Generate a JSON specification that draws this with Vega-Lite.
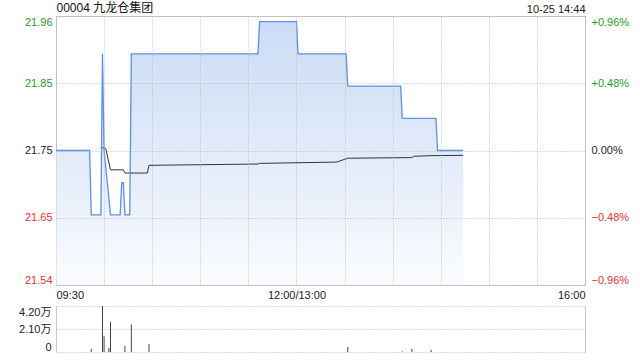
{
  "$schema": "https://vega.github.io/schema/vega-lite/v6.json",
  "background": "white",
  "padding": {"left": 18, "top": 0, "right": 5, "bottom": 5},
  "bounds": "flush",
  "spacing": 21,
  "datasets": {
    "price": [
      {"t": 0, "p": 21.75}, {"t": 21, "p": 21.75}, {"t": 22, "p": 21.65}, {"t": 28, "p": 21.65},
      {"t": 29, "p": 21.90}, {"t": 30, "p": 21.75}, {"t": 34, "p": 21.65}, {"t": 40, "p": 21.65},
      {"t": 41, "p": 21.70}, {"t": 42, "p": 21.70}, {"t": 43, "p": 21.65}, {"t": 46, "p": 21.65},
      {"t": 47, "p": 21.90}, {"t": 126, "p": 21.90}, {"t": 127, "p": 21.95}, {"t": 150, "p": 21.95},
      {"t": 151, "p": 21.90}, {"t": 181, "p": 21.90}, {"t": 182, "p": 21.85}, {"t": 215, "p": 21.85},
      {"t": 216, "p": 21.80}, {"t": 237, "p": 21.80}, {"t": 238, "p": 21.75}, {"t": 254, "p": 21.75}
    ],
    "avg": [
      {"t": 28, "p": 21.755}, {"t": 31, "p": 21.753}, {"t": 34, "p": 21.720}, {"t": 42, "p": 21.720},
      {"t": 43, "p": 21.715}, {"t": 57, "p": 21.715}, {"t": 58, "p": 21.727}, {"t": 126, "p": 21.729},
      {"t": 127, "p": 21.730}, {"t": 175, "p": 21.732}, {"t": 182, "p": 21.738}, {"t": 222, "p": 21.739},
      {"t": 223, "p": 21.741}, {"t": 234, "p": 21.742}, {"t": 254, "p": 21.7425}
    ],
    "vol": [
      {"t": 22, "v": 2900}, {"t": 29, "v": 42000}, {"t": 30, "v": 14300}, {"t": 33, "v": 3700},
      {"t": 34, "v": 27700}, {"t": 43, "v": 5700}, {"t": 47, "v": 25100}, {"t": 58, "v": 7100},
      {"t": 182, "v": 4600}, {"t": 216, "v": 600}, {"t": 222, "v": 2900}, {"t": 234, "v": 2000}
    ]
  },
  "config": {
    "font": "Liberation Sans",
    "axis": {
      "labelFont": "Liberation Sans, Noto Sans CJK SC",
      "labelFontSize": 11,
      "titleFont": "Liberation Sans, Noto Sans CJK SC",
      "labelColor": "#222222"
    },
    "text": {"font": "Liberation Sans"}
  },
  "vconcat": [
    {
      "width": 529,
      "height": 269,
      "view": {"stroke": "#c8c8c8"},
      "layer": [
        {
          "data": {"name": "price"},
          "mark": {
            "type": "area",
            "fill": {
              "gradient": "linear", "x1": 0, "y1": 0, "x2": 0, "y2": 1,
              "stops": [{"offset": 0, "color": "#cbdcf6"}, {"offset": 0.6, "color": "#e6eefa"}, {"offset": 1, "color": "#fbfcff"}]
            }
          },
          "encoding": {
            "x": {
              "field": "t", "type": "quantitative",
              "scale": {"domain": [0, 330], "nice": false, "zero": false},
              "axis": {
                "orient": "bottom", "zindex": 1,
                "values": [0, 30, 60, 90, 120, 150, 180, 210, 240, 270, 300, 330],
                "labelExpr": "datum.value == 0 ? '09:30' : datum.value == 150 ? '12:00/13:00' : datum.value == 330 ? '16:00' : ''",
                "grid": true, "gridColor": "#b8b8b8", "gridDash": [1, 2],
                "ticks": false, "domain": false, "labelFlush": true, "labelOverlap": false,
                "labelPadding": 4, "title": null
              }
            },
            "y": {
              "field": "p", "type": "quantitative",
              "scale": {"domain": [21.5412, 21.9588], "nice": false, "zero": false},
              "axis": {
                "orient": "left", "zindex": 1,
                "values": [21.5412, 21.6456, 21.75, 21.8544, 21.9588],
                "labelExpr": "format(datum.value, '.2f')",
                "grid": true, "gridColor": "#b8b8b8", "gridDash": [1, 2],
                "ticks": false, "domain": false, "labelFlush": true, "labelPadding": 4,
                "labelColor": {"condition": [{"test": "datum.value > 21.76", "value": "#1e9e1e"}, {"test": "datum.value < 21.74", "value": "#f03030"}], "value": "#222222"},
                "title": null
              }
            },
            "y2": {"datum": 21.5412}
          }
        },
        {
          "mark": {"type": "rule", "color": "#999999", "strokeDash": [3, 2], "strokeWidth": 1},
          "encoding": {
            "x": {
              "datum": 0, "type": "quantitative",
              "scale": {"domain": [0, 330], "nice": false, "zero": false},
              "axis": {
                "orient": "top", "values": [330], "labelExpr": "'10-25 14:44'",
                "labelAlign": "right", "labelPadding": 2, "ticks": false, "domain": false, "grid": false,
                "title": "00004 九龙仓集团", "titleX": 0, "titleY": -2, "titleAlign": "left",
                "titleBaseline": "bottom", "titleFontSize": 12, "titleFontWeight": "normal", "titleColor": "#111111"
              }
            },
            "x2": {"datum": 330},
            "y": {
              "datum": 21.75, "type": "quantitative",
              "scale": {"domain": [21.5412, 21.9588], "nice": false, "zero": false},
              "axis": {
                "orient": "right",
                "values": [21.5412, 21.6456, 21.75, 21.8544, 21.9588],
                "labelExpr": "datum.value > 21.76 ? '+' + format((datum.value - 21.75) / 21.75 * 100, '.2f') + '%' : datum.value < 21.74 ? format((datum.value - 21.75) / 21.75 * 100, '.2f') + '%' : '0.00%'",
                "grid": false, "ticks": false, "domain": false, "labelFlush": true, "labelPadding": 6,
                "labelColor": {"condition": [{"test": "datum.value > 21.76", "value": "#1e9e1e"}, {"test": "datum.value < 21.74", "value": "#f03030"}], "value": "#222222"},
                "title": null
              }
            }
          }
        },
        {
          "data": {"name": "avg"},
          "mark": {"type": "line", "color": "#333333", "strokeWidth": 1},
          "encoding": {
            "x": {"field": "t", "type": "quantitative", "scale": {"domain": [0, 330], "nice": false, "zero": false}, "axis": null},
            "y": {"field": "p", "type": "quantitative", "scale": {"domain": [21.5412, 21.9588], "nice": false, "zero": false}, "axis": null}
          }
        },
        {
          "data": {"name": "price"},
          "mark": {"type": "line", "color": "#5d8fe6", "strokeWidth": 1.3},
          "encoding": {
            "x": {"field": "t", "type": "quantitative", "scale": {"domain": [0, 330], "nice": false, "zero": false}, "axis": null},
            "y": {"field": "p", "type": "quantitative", "scale": {"domain": [21.5412, 21.9588], "nice": false, "zero": false}, "axis": null}
          }
        },
        {
          "mark": {"type": "text", "text": "sina.com", "align": "right", "baseline": "middle", "fontSize": 12, "color": "#bdbdbd"},
          "encoding": {
            "x": {"datum": 323.7, "type": "quantitative", "scale": {"domain": [0, 330], "nice": false, "zero": false}, "axis": null},
            "y": {"datum": 21.5505, "type": "quantitative", "scale": {"domain": [21.5412, 21.9588], "nice": false, "zero": false}, "axis": null}
          }
        }
      ],
      "resolve": {"scale": {"x": "independent", "y": "independent"}, "axis": {"x": "independent", "y": "independent"}}
    },
    {
      "width": 529,
      "height": 46,
      "view": {"stroke": null},
      "layer": [
        {
          "data": {"name": "vol"},
          "mark": {"type": "rule", "color": "#444444", "strokeWidth": 1},
          "encoding": {
            "x": {"field": "t", "type": "quantitative", "scale": {"domain": [0, 330], "nice": false, "zero": false}, "axis": null},
            "y": {
              "field": "v", "type": "quantitative",
              "scale": {"domain": [0, 42000], "nice": false},
              "axis": {
                "orient": "left", "values": [0, 21000, 42000],
                "labelExpr": "datum.value == 0 ? '0' : format(datum.value / 10000, '.2f') + '万'",
                "grid": true, "gridColor": "#b8b8b8", "gridDash": [1, 2],
                "ticks": false, "domain": true, "domainColor": "#c8c8c8",
                "labelFlush": true, "labelPadding": 5, "title": null
              }
            },
            "y2": {"datum": 0}
          }
        },
        {
          "mark": {"type": "rule", "opacity": 0},
          "encoding": {
            "y": {
              "datum": 0, "type": "quantitative",
              "scale": {"domain": [0, 42000], "nice": false},
              "axis": {"orient": "right", "labels": false, "ticks": false, "grid": false, "domain": true, "domainColor": "#c8c8c8", "title": null}
            }
          }
        }
      ],
      "resolve": {"scale": {"y": "independent"}, "axis": {"y": "independent"}}
    }
  ]
}
